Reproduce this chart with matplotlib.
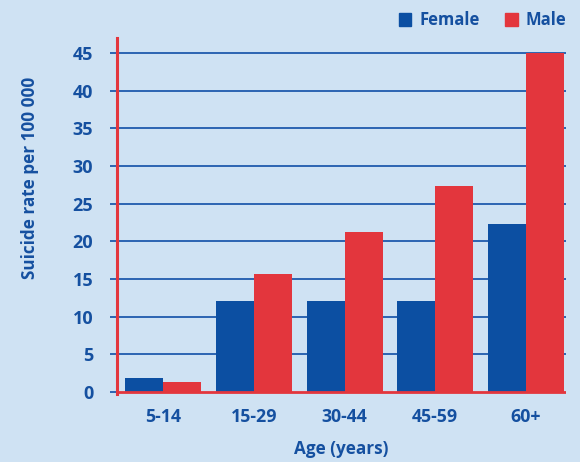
import matplotlib.pyplot as plt
import numpy as np
from matplotlib.patches import Patch

age_groups = ["5-14", "15-29", "30-44", "45-59", "60+"]
female = [1.9, 12.1, 12.1, 12.1, 22.3]
male = [1.3, 15.7, 21.2, 27.3, 45.0]
yticks = [0, 5, 10, 15, 20, 25, 30, 35, 40, 45]

BLUE = "#0c4fa2"
RED = "#e3363d"
TEXT = "#1550a0"
GRID = "#2c64b2"
BG = "#cfe2f3"

plt.rcParams["font.family"] = ["Open Sans", "DejaVu Sans"]
plt.rcParams["font.weight"] = "bold"

fig = plt.figure(figsize=(5.8, 4.62), dpi=100, facecolor=BG)
ax = fig.add_axes([0.2017, 0.1465, 0.774, 0.771])
ax.set_facecolor("none")

x = np.arange(len(age_groups))
w = 0.42
ax.bar(x - w / 2, female, w, color=BLUE, zorder=3)
ax.bar(x + w / 2, male, w, color=RED, zorder=3)

ax.set_xlim(-0.51, 4.44)
ax.set_ylim(-0.3, 47)

# horizontal rules in blue, zero line and left axis in red
for v in yticks[1:]:
    ax.axhline(v, color=GRID, lw=1.4, zorder=1)
ax.axhline(0, color=RED, lw=2, zorder=4)

for s in ["top", "right", "bottom"]:
    ax.spines[s].set_visible(False)
ax.spines["left"].set_color(RED)
ax.spines["left"].set_linewidth(2.2)
ax.spines["left"].set_zorder(5)

ax.set_yticks(yticks)
ax.set_yticklabels([str(v) for v in yticks], fontsize=13, color=TEXT, fontweight="bold")
ax.tick_params(axis="y", length=5, width=1.4, color=GRID, pad=12)
ax.set_xticks(x)
ax.set_xticklabels(age_groups, fontsize=12.8, color=TEXT, fontweight="bold")
ax.tick_params(axis="x", length=0, pad=10)

ax.set_xlabel("Age (years)", fontsize=12.3, color=TEXT, fontweight="bold", labelpad=10)
fig.text(0.052, 0.615, "Suicide rate per 100 000", rotation=90, ha="center", va="center",
         fontsize=12.3, color=TEXT, fontweight="bold")

handles = [Patch(color=BLUE, label="Female"), Patch(color=RED, label="Male")]
fig.legend(handles=handles, loc="upper right", bbox_to_anchor=(1.003, 1.008), ncol=2,
           frameon=False, prop={"size": 12, "weight": "bold"}, labelcolor=TEXT,
           handlelength=0.75, handleheight=0.75, handletextpad=0.5, columnspacing=1.5)

fig.savefig("out.png", dpi=100, facecolor=BG)
